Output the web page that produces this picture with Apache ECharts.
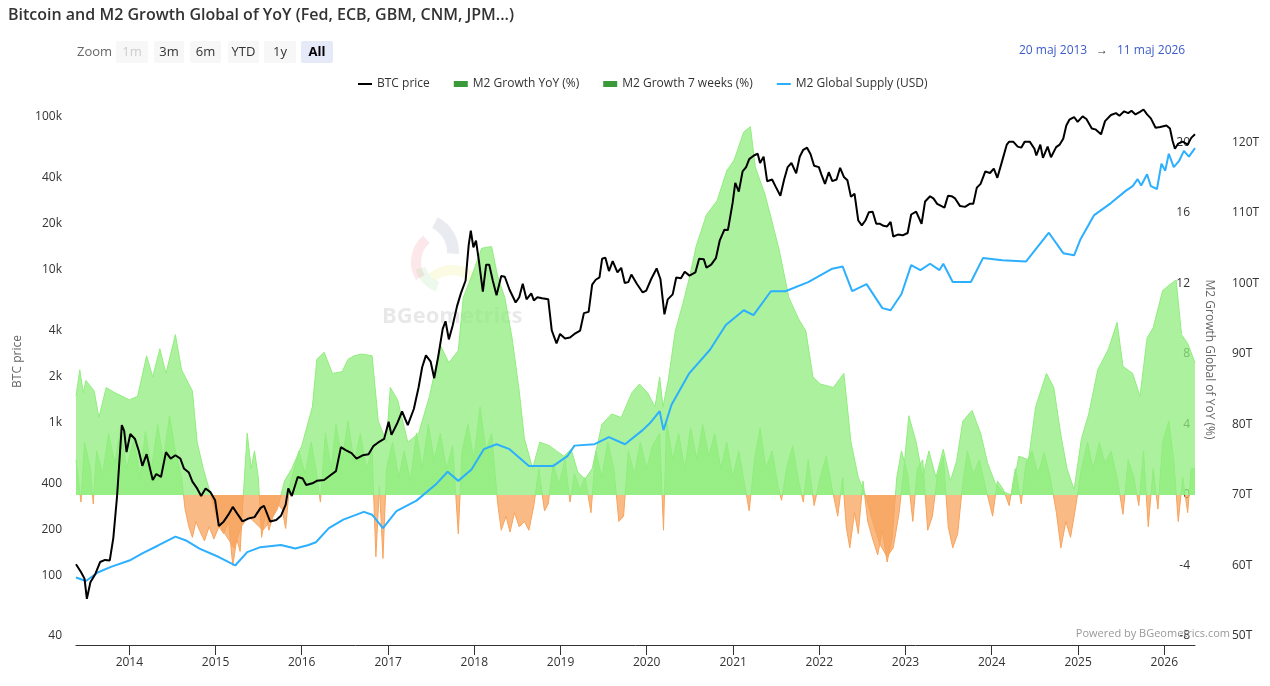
<!DOCTYPE html>
<html>
<head>
<meta charset="utf-8">
<title>Bitcoin and M2 Growth Global of YoY</title>
<script src="https://cdn.jsdelivr.net/npm/echarts@6/dist/echarts.min.js"></script>
<style>
  html, body { margin: 0; padding: 0; background: #fff; }
  #chart { width: 1270px; height: 686px; }
</style>
</head>
<body>
<div id="chart"></div>
<script>
// BTC price (USD)
var btcPrice = [
  ['2013-05-20', 118], ['2013-06-10', 105], ['2013-06-25', 95], ['2013-07-05', 70], ['2013-07-20', 90],
  ['2013-08-10', 102], ['2013-08-30', 122], ['2013-09-20', 126], ['2013-10-10', 125], ['2013-10-25', 175],
  ['2013-11-10', 330], ['2013-11-30', 960], ['2013-12-10', 880], ['2013-12-20', 640], ['2014-01-05', 840],
  ['2014-01-25', 780], ['2014-02-10', 650], ['2014-02-25', 520], ['2014-03-15', 620], ['2014-04-10', 420],
  ['2014-04-25', 460], ['2014-05-15', 440], ['2014-06-05', 640], ['2014-06-25', 580], ['2014-07-15', 610],
  ['2014-08-05', 580], ['2014-08-20', 500], ['2014-09-10', 470], ['2014-09-25', 410], ['2014-10-15', 370],
  ['2014-11-01', 330], ['2014-11-20', 370], ['2014-12-10', 350], ['2014-12-30', 310], ['2015-01-15', 210],
  ['2015-02-05', 225], ['2015-02-25', 250], ['2015-03-15', 280], ['2015-04-05', 250], ['2015-04-25', 225],
  ['2015-05-20', 235], ['2015-06-15', 240], ['2015-07-10', 275], ['2015-07-25', 285], ['2015-08-20', 225],
  ['2015-09-15', 230], ['2015-10-05', 245], ['2015-10-25', 290], ['2015-11-05', 370], ['2015-11-20', 330],
  ['2015-12-15', 440], ['2016-01-05', 430], ['2016-01-20', 390], ['2016-02-15', 400], ['2016-03-05', 415],
  ['2016-04-05', 420], ['2016-04-30', 450], ['2016-05-25', 480], ['2016-06-15', 690], ['2016-07-05', 660],
  ['2016-07-30', 630], ['2016-08-20', 580], ['2016-09-15', 610], ['2016-10-10', 620], ['2016-10-30', 700],
  ['2016-11-20', 740], ['2016-12-15', 780], ['2017-01-03', 1010], ['2017-01-15', 830], ['2017-02-10', 1000],
  ['2017-03-01', 1180], ['2017-03-25', 960], ['2017-04-20', 1230], ['2017-05-10', 1700], ['2017-05-25', 2300],
  ['2017-06-10', 2750], ['2017-06-30', 2500], ['2017-07-15', 1950], ['2017-08-01', 2700], ['2017-08-20', 4100],
  ['2017-09-01', 4600], ['2017-09-15', 3500], ['2017-10-01', 4300], ['2017-10-20', 5800], ['2017-11-05', 7000],
  ['2017-11-25', 8500], ['2017-12-08', 14500], ['2017-12-17', 18000], ['2017-12-28', 14000], ['2018-01-08', 15500],
  ['2018-01-20', 11500], ['2018-02-06', 7200], ['2018-02-20', 10800], ['2018-03-05', 10800], ['2018-03-20', 8500],
  ['2018-04-05', 6800], ['2018-04-25', 9100], ['2018-05-10', 9000], ['2018-05-30', 7400], ['2018-06-25', 6100],
  ['2018-07-10', 6600], ['2018-07-25', 8100], ['2018-08-10', 6400], ['2018-08-30', 7000], ['2018-09-10', 6300],
  ['2018-09-25', 6600], ['2018-10-15', 6500], ['2018-11-10', 6400], ['2018-11-25', 4000], ['2018-12-15', 3300],
  ['2018-12-30', 3800], ['2019-01-20', 3550], ['2019-02-10', 3600], ['2019-03-01', 3800], ['2019-03-25', 4000],
  ['2019-04-10', 5200], ['2019-04-30', 5300], ['2019-05-15', 8000], ['2019-05-30', 8600], ['2019-06-15', 8900],
  ['2019-06-26', 11800], ['2019-07-10', 12000], ['2019-07-25', 9800], ['2019-08-10', 11400], ['2019-08-30', 9600],
  ['2019-09-15', 10300], ['2019-09-30', 8200], ['2019-10-15', 8300], ['2019-10-28', 9300], ['2019-11-20', 8100],
  ['2019-12-15', 7100], ['2019-12-30', 7300], ['2020-01-20', 8700], ['2020-02-12', 10200], ['2020-02-28', 8700],
  ['2020-03-16', 5100], ['2020-03-30', 6400], ['2020-04-20', 6900], ['2020-05-05', 8900], ['2020-05-25', 8800],
  ['2020-06-10', 9700], ['2020-06-30', 9150], ['2020-07-25', 9600], ['2020-08-10', 11800], ['2020-08-30', 11700],
  ['2020-09-10', 10300], ['2020-09-30', 10800], ['2020-10-20', 11900], ['2020-11-05', 15500], ['2020-11-25', 18300],
  ['2020-12-10', 18200], ['2020-12-30', 27500], ['2021-01-10', 37000], ['2021-01-25', 32500], ['2021-02-10', 44000],
  ['2021-02-25', 47000], ['2021-03-10', 53000], ['2021-03-30', 56000], ['2021-04-15', 57500], ['2021-04-25', 50000],
  ['2021-05-10', 55000], ['2021-05-25', 38000], ['2021-06-15', 39000], ['2021-06-30', 35000], ['2021-07-20', 30500],
  ['2021-08-05', 39000], ['2021-08-20', 47000], ['2021-09-05', 50000], ['2021-09-25', 42800], ['2021-10-10', 55000],
  ['2021-10-25', 61000], ['2021-11-10', 63000], ['2021-11-25', 57000], ['2021-12-10', 48000], ['2021-12-30', 47000],
  ['2022-01-10', 42000], ['2022-01-25', 36500], ['2022-02-10', 43500], ['2022-02-25', 38000], ['2022-03-15', 39000],
  ['2022-03-30', 46500], ['2022-04-15', 40500], ['2022-04-30', 38500], ['2022-05-15', 30000], ['2022-05-30', 31500],
  ['2022-06-15', 21000], ['2022-06-30', 19500], ['2022-07-15', 21000], ['2022-07-30', 23800], ['2022-08-15', 24000],
  ['2022-08-30', 20000], ['2022-09-15', 20000], ['2022-09-30', 19400], ['2022-10-15', 19200], ['2022-10-30', 20600],
  ['2022-11-10', 16500], ['2022-11-30', 17000], ['2022-12-20', 16800], ['2023-01-10', 17400], ['2023-01-25', 23000],
  ['2023-02-15', 24000], ['2023-03-10', 20000], ['2023-03-25', 28000], ['2023-04-15', 30300], ['2023-04-30', 29200],
  ['2023-05-15', 27000], ['2023-06-15', 25500], ['2023-06-30', 30500], ['2023-07-15', 30300], ['2023-07-30', 29300],
  ['2023-08-20', 26100], ['2023-09-10', 25800], ['2023-09-30', 27000], ['2023-10-15', 27000], ['2023-10-30', 34500],
  ['2023-11-15', 36500], ['2023-12-05', 44000], ['2023-12-25', 43000], ['2024-01-10', 46000], ['2024-01-25', 40000],
  ['2024-02-15', 52000], ['2024-03-05', 66000], ['2024-03-15', 69000], ['2024-04-01', 69000], ['2024-04-20', 64000],
  ['2024-05-05', 63000], ['2024-05-20', 69000], ['2024-06-10', 69000], ['2024-06-30', 62000], ['2024-07-08', 56000],
  ['2024-07-25', 66000], ['2024-08-05', 54000], ['2024-08-25', 64000], ['2024-09-08', 54500], ['2024-09-30', 63500],
  ['2024-10-15', 66000], ['2024-10-30', 72000], ['2024-11-12', 88000], ['2024-11-25', 96000], ['2024-12-15', 100000],
  ['2024-12-30', 93000], ['2025-01-20', 101000], ['2025-02-05', 97000], ['2025-02-28', 84000], ['2025-03-15', 83000],
  ['2025-04-08', 77000], ['2025-04-25', 94000], ['2025-05-20', 103000], ['2025-06-10', 106000], ['2025-06-25', 102000],
  ['2025-07-15', 109000], ['2025-08-01', 106000], ['2025-08-15', 110000], ['2025-09-01', 104000], ['2025-09-20', 108000],
  ['2025-10-05', 112000], ['2025-10-20', 104000], ['2025-11-05', 98000], ['2025-11-25', 85000], ['2025-12-15', 86000],
  ['2026-01-10', 88000], ['2026-01-25', 84000], ['2026-02-05', 70000], ['2026-02-15', 62000], ['2026-03-01', 67000],
  ['2026-03-20', 69000], ['2026-04-10', 66000], ['2026-04-25', 73000], ['2026-05-11', 77000]
];

// M2 Global Supply (USD, trillions)
var m2Supply = [
  ['2013-05-20', 58.3], ['2013-07-01', 57.8], ['2013-08-20', 59.0], ['2013-10-15', 59.8], ['2014-01-01', 60.7],
  ['2014-03-01', 61.8], ['2014-05-01', 62.8], ['2014-07-15', 64.1], ['2014-09-01', 63.5], ['2014-10-25', 62.4],
  ['2015-01-15', 61.2], ['2015-03-25', 60.0], ['2015-05-15', 61.9], ['2015-07-10', 62.6], ['2015-10-05', 62.9],
  ['2015-12-05', 62.4], ['2016-01-30', 62.9], ['2016-03-01', 63.3], ['2016-04-25', 65.3], ['2016-06-25', 66.5],
  ['2016-09-20', 67.6], ['2016-10-25', 67.2], ['2016-12-10', 65.3], ['2017-02-05', 67.7], ['2017-05-01', 69.2],
  ['2017-07-25', 71.6], ['2017-09-10', 73.3], ['2017-10-25', 72.0], ['2017-12-20', 73.6], ['2018-02-10', 76.5],
  ['2018-04-05', 77.2], ['2018-05-30', 76.5], ['2018-08-20', 74.1], ['2018-11-30', 74.1], ['2019-01-30', 75.5],
  ['2019-03-01', 77.0], ['2019-05-25', 77.2], ['2019-07-25', 78.2], ['2019-10-01', 77.2], ['2019-12-15', 79.2],
  ['2020-01-15', 80.2], ['2020-02-25', 81.9], ['2020-03-12', 79.2], ['2020-04-15', 82.8], ['2020-06-28', 87.2],
  ['2020-09-25', 90.6], ['2020-12-01', 94.1], ['2021-02-15', 96.2], ['2021-03-28', 95.5], ['2021-06-10', 98.9],
  ['2021-08-10', 98.9], ['2021-11-15', 100.2], ['2022-02-25', 102.1], ['2022-04-10', 102.4], ['2022-05-20', 98.9],
  ['2022-07-20', 99.9], ['2022-09-25', 96.5], ['2022-10-30', 96.2], ['2022-12-15', 98.5], ['2023-01-25', 102.6],
  ['2023-03-05', 101.9], ['2023-04-15', 102.8], ['2023-05-25', 101.9], ['2023-06-10', 102.8], ['2023-07-20', 100.2],
  ['2023-10-05', 100.2], ['2023-11-25', 103.6], ['2024-02-15', 103.3], ['2024-05-25', 103.1], ['2024-08-30', 107.2],
  ['2024-10-30', 104.3], ['2024-12-15', 104.0], ['2025-01-10', 106.2], ['2025-03-10', 109.7], ['2025-05-20', 111.4],
  ['2025-07-20', 113.1], ['2025-08-20', 113.8], ['2025-09-10', 114.8], ['2025-09-25', 113.9], ['2025-10-20', 115.5],
  ['2025-11-05', 113.8], ['2025-12-01', 113.4], ['2025-12-20', 117.0], ['2026-01-05', 116.0], ['2026-01-20', 118.4],
  ['2026-02-10', 116.5], ['2026-03-05', 117.4], ['2026-03-25', 118.8], ['2026-04-15', 118.0], ['2026-05-11', 119.2]
];

// M2 Growth YoY (%)
var m2GrowthYoY = [
  ['2013-05-20', 5.6], ['2013-06-05', 7.1], ['2013-06-20', 5.8], ['2013-07-01', 6.5], ['2013-08-05', 5.9],
  ['2013-08-25', 4.4], ['2013-09-25', 6.1], ['2013-11-01', 5.8], ['2014-01-01', 5.4], ['2014-02-05', 5.6],
  ['2014-03-15', 7.9], ['2014-04-10', 6.7], ['2014-05-10', 8.3], ['2014-06-05', 6.9], ['2014-07-15', 9.1],
  ['2014-08-10', 7.1], ['2014-09-25', 5.9], ['2014-10-15', 3.0], ['2014-11-10', 1.5], ['2014-12-10', 0.1],
  ['2015-01-10', -1.5], ['2015-02-10', -2.2], ['2015-03-20', -3.0], ['2015-04-20', -1.8], ['2015-05-20', -1.2],
  ['2015-06-20', -1.6], ['2015-07-20', -2.0], ['2015-08-20', -1.5], ['2015-09-20', -0.8], ['2015-10-20', 0.8],
  ['2015-11-20', 1.5], ['2016-01-01', 2.8], ['2016-02-15', 5.0], ['2016-03-05', 7.7], ['2016-04-05', 8.1],
  ['2016-05-10', 6.9], ['2016-06-20', 7.0], ['2016-07-15', 7.7], ['2016-08-10', 7.9], ['2016-09-10', 8.0],
  ['2016-10-25', 7.9], ['2016-11-20', 4.2], ['2016-12-25', 3.0], ['2017-01-10', 6.1], ['2017-02-10', 5.4],
  ['2017-03-25', 3.0], ['2017-05-10', 3.5], ['2017-06-25', 5.6], ['2017-08-10', 8.5], ['2017-09-15', 7.5],
  ['2017-10-25', 8.2], ['2017-11-15', 11.2], ['2017-12-20', 12.4], ['2018-02-01', 14.0], ['2018-03-15', 14.1],
  ['2018-04-10', 12.4], ['2018-05-10', 11.2], ['2018-06-10', 8.9], ['2018-07-10', 5.9], ['2018-08-01', 3.2],
  ['2018-09-05', 1.5], ['2018-10-05', 3.0], ['2018-11-15', 2.8], ['2018-12-15', 2.5], ['2019-01-15', 2.2],
  ['2019-02-15', 2.6], ['2019-03-15', 1.3], ['2019-04-15', 0.9], ['2019-05-15', 1.5], ['2019-06-25', 4.0],
  ['2019-08-05', 4.6], ['2019-09-15', 4.4], ['2019-10-30', 5.8], ['2019-12-01', 6.3], ['2020-01-05', 5.8],
  ['2020-02-05', 5.0], ['2020-02-25', 6.7], ['2020-03-10', 5.0], ['2020-04-01', 6.5], ['2020-05-01', 9.3],
  ['2020-06-01', 10.8], ['2020-07-01', 12.4], ['2020-07-28', 14.1], ['2020-09-10', 15.9], ['2020-10-25', 16.7],
  ['2020-12-05', 18.4], ['2021-01-05', 19.0], ['2021-02-15', 20.6], ['2021-03-15', 20.9], ['2021-04-05', 18.6],
  ['2021-05-15', 17.1], ['2021-06-15', 15.5], ['2021-07-15', 13.9], ['2021-08-25', 11.2], ['2021-10-05', 10.0],
  ['2021-11-05', 9.3], ['2021-12-05', 6.7], ['2022-01-05', 6.3], ['2022-03-01', 6.1], ['2022-04-15', 6.9],
  ['2022-05-15', 3.0], ['2022-06-15', 1.0], ['2022-07-15', 0.0], ['2022-08-15', -1.5], ['2022-09-15', -2.8],
  ['2022-10-15', -3.5], ['2022-11-10', -3.0], ['2022-12-05', -1.0], ['2022-12-25', 1.5], ['2023-01-15', 4.5],
  ['2023-02-15', 3.0], ['2023-03-15', 1.0], ['2023-04-10', 2.5], ['2023-05-10', 1.0], ['2023-06-10', 2.6],
  ['2023-07-10', 0.8], ['2023-08-05', 1.9], ['2023-09-01', 4.2], ['2023-10-10', 4.8], ['2023-11-15', 3.5],
  ['2023-12-15', 1.8], ['2024-01-15', 0.7], ['2024-02-15', 0.2], ['2024-03-25', 0.0], ['2024-04-25', 2.2],
  ['2024-06-05', 2.0], ['2024-07-05', 5.0], ['2024-08-20', 6.9], ['2024-09-20', 6.1], ['2024-10-20', 3.4],
  ['2024-11-15', 1.5], ['2024-12-15', 0.3], ['2025-01-15', 3.2], ['2025-02-15', 4.6], ['2025-03-25', 7.1],
  ['2025-05-10', 8.3], ['2025-06-15', 9.8], ['2025-07-10', 7.3], ['2025-08-20', 6.9], ['2025-09-20', 5.6],
  ['2025-10-20', 8.9], ['2025-11-15', 9.5], ['2025-12-25', 11.6], ['2026-01-30', 12.0], ['2026-02-20', 12.2],
  ['2026-03-15', 9.1], ['2026-04-10', 8.6], ['2026-05-11', 7.5]
];

// M2 Growth 7 weeks (%)
var m2Growth7w = [
  ['2013-05-20', 2.0], ['2013-06-10', -0.4], ['2013-06-25', 3.0], ['2013-07-20', 1.5], ['2013-08-01', -0.5],
  ['2013-08-15', 2.5], ['2013-09-10', 1.2], ['2013-10-05', 3.5], ['2013-11-01', 1.8], ['2013-11-25', 3.8],
  ['2013-12-20', 1.5], ['2014-01-20', 3.2], ['2014-02-15', 1.0], ['2014-03-10', 3.6], ['2014-04-05', 1.5],
  ['2014-05-01', 4.0], ['2014-05-25', 2.0], ['2014-06-20', 4.5], ['2014-07-15', 2.5], ['2014-08-10', 1.0],
  ['2014-08-25', -0.8], ['2014-09-10', -1.8], ['2014-09-25', -2.4], ['2014-10-10', -1.5], ['2014-10-25', -2.0],
  ['2014-11-15', -2.6], ['2014-12-05', -1.8], ['2014-12-25', -2.5], ['2015-01-15', -1.8], ['2015-02-05', -2.2],
  ['2015-02-25', -1.5], ['2015-03-15', -4.0], ['2015-04-01', -2.5], ['2015-04-15', -3.2], ['2015-05-01', 0.5],
  ['2015-05-15', 3.5], ['2015-06-01', 1.5], ['2015-06-15', 2.5], ['2015-07-01', 1.0], ['2015-07-15', -2.4],
  ['2015-08-01', -1.0], ['2015-08-15', -2.0], ['2015-09-01', -1.2], ['2015-09-20', -0.5], ['2015-10-10', -0.8],
  ['2015-10-25', -1.9], ['2015-11-10', 0.5], ['2015-12-01', 1.5], ['2015-12-20', 2.5], ['2016-01-15', 1.2],
  ['2016-02-10', 3.0], ['2016-03-01', 1.5], ['2016-03-20', -0.4], ['2016-04-10', 3.5], ['2016-05-05', 1.5],
  ['2016-05-25', 4.0], ['2016-06-20', 2.0], ['2016-07-15', 4.2], ['2016-08-10', 1.8], ['2016-09-05', 3.5],
  ['2016-10-01', 1.5], ['2016-10-25', 2.5], ['2016-11-10', -3.5], ['2016-11-25', 0.5], ['2016-12-10', -3.6],
  ['2016-12-25', 1.5], ['2017-01-20', 3.0], ['2017-02-15', 1.0], ['2017-03-10', 2.5], ['2017-04-05', 0.8],
  ['2017-05-01', 3.5], ['2017-05-25', 1.5], ['2017-06-20', 4.0], ['2017-07-15', 2.0], ['2017-08-10', 3.5],
  ['2017-09-05', 1.5], ['2017-10-01', 2.8], ['2017-10-25', -2.2], ['2017-11-10', 2.5], ['2017-12-05', 4.0],
  ['2017-12-30', 2.0], ['2018-01-25', 5.0], ['2018-02-20', 2.5], ['2018-03-15', 3.5], ['2018-04-10', -0.5],
  ['2018-04-25', -2.0], ['2018-05-15', -1.2], ['2018-06-01', -2.1], ['2018-06-20', -1.0], ['2018-07-10', -1.8],
  ['2018-08-01', -1.5], ['2018-08-20', -2.0], ['2018-09-10', -0.6], ['2018-10-01', 1.5], ['2018-10-25', -0.9],
  ['2018-11-10', -0.5], ['2018-12-01', 1.8], ['2018-12-25', 0.6], ['2019-01-20', 2.0], ['2019-02-10', -0.4],
  ['2019-03-01', 1.2], ['2019-03-25', 0.3], ['2019-04-15', 1.0], ['2019-05-10', -1.0], ['2019-05-30', 2.5],
  ['2019-06-25', 1.0], ['2019-07-20', 3.0], ['2019-08-15', 1.5], ['2019-09-05', -1.5], ['2019-09-25', -1.2],
  ['2019-10-15', 2.5], ['2019-11-10', 1.2], ['2019-12-05', 3.0], ['2020-01-01', 1.5], ['2020-01-25', 2.8],
  ['2020-02-25', 3.5], ['2020-03-12', -2.0], ['2020-03-25', 4.2], ['2020-04-20', 2.0], ['2020-05-15', 3.5],
  ['2020-06-10', 1.5], ['2020-07-05', 3.8], ['2020-08-01', 2.0], ['2020-08-25', 4.0], ['2020-09-20', 2.2],
  ['2020-10-15', 3.5], ['2020-11-10', 1.5], ['2020-12-05', 3.0], ['2020-12-30', 1.0], ['2021-01-25', 2.5],
  ['2021-02-20', 0.5], ['2021-03-10', -0.9], ['2021-04-01', 2.0], ['2021-04-25', 3.8], ['2021-05-20', 1.5],
  ['2021-06-15', 2.5], ['2021-07-10', 0.5], ['2021-07-25', -0.3], ['2021-08-15', 1.5], ['2021-09-10', 2.8],
  ['2021-10-05', 0.8], ['2021-10-25', -0.4], ['2021-11-15', 2.0], ['2021-12-10', -0.6], ['2022-01-05', 1.0],
  ['2022-01-30', 2.2], ['2022-02-25', 0.3], ['2022-03-20', -1.2], ['2022-04-10', 1.0], ['2022-04-25', -1.8],
  ['2022-05-10', -3.0], ['2022-05-30', -1.0], ['2022-06-15', -2.2], ['2022-07-05', 0.8], ['2022-07-25', -1.5],
  ['2022-08-15', -2.5], ['2022-09-05', -3.4], ['2022-09-25', -2.0], ['2022-10-15', -3.8], ['2022-11-05', -2.5],
  ['2022-11-25', 1.0], ['2022-12-15', 2.5], ['2023-01-10', 1.2], ['2023-02-01', -1.5], ['2023-02-20', 1.5],
  ['2023-03-15', 2.0], ['2023-04-05', -2.0], ['2023-04-25', -1.2], ['2023-05-15', 1.0], ['2023-06-10', 2.2],
  ['2023-07-01', -1.8], ['2023-07-20', -3.0], ['2023-08-10', -2.2], ['2023-08-30', 0.5], ['2023-09-20', 2.5],
  ['2023-10-15', 1.2], ['2023-11-10', 2.0], ['2023-12-05', 0.5], ['2024-01-05', -1.2], ['2024-01-25', 0.8],
  ['2024-02-20', 0.3], ['2024-03-15', -0.6], ['2024-04-10', 1.5], ['2024-05-05', -0.5], ['2024-05-25', 1.8],
  ['2024-06-20', 2.5], ['2024-07-15', 1.2], ['2024-08-10', 2.4], ['2024-09-05', 1.0], ['2024-10-01', -1.0],
  ['2024-10-20', -3.0], ['2024-11-10', -1.5], ['2024-11-30', -2.4], ['2024-12-20', -0.8], ['2025-01-15', 1.5],
  ['2025-02-10', 3.0], ['2025-03-05', 1.5], ['2025-04-01', 3.0], ['2025-04-25', 1.8], ['2025-05-20', 2.5],
  ['2025-06-15', 1.0], ['2025-07-10', -1.1], ['2025-08-01', 2.0], ['2025-08-25', 1.0], ['2025-09-15', -0.6],
  ['2025-10-05', 2.5], ['2025-10-25', -1.8], ['2025-11-15', 1.5], ['2025-12-05', -0.8], ['2025-12-25', 3.0],
  ['2026-01-20', 4.2], ['2026-02-10', 2.0], ['2026-03-01', -1.5], ['2026-03-20', 1.0], ['2026-04-10', -1.0],
  ['2026-04-25', 1.5], ['2026-05-11', 1.5]
];

var btcTicks = [40, 100, 200, 400, 1000, 2000, 4000, 10000, 20000, 40000, 100000];
var growthTicks = [-8, -4, 0, 4, 8, 12, 16, 20];
var supplyTicks = [50, 60, 70, 80, 90, 100, 110, 120];

var FONT = '"Open Sans", sans-serif';
var GREEN = '#90ed7d';
var ORANGE = '#f7a35c';
var BLUE = '#2caffe';
var BAR_ICON = 'path://M0,0 L14,0 L14,6 L0,6 Z';
var LINE_ICON = 'path://M0,0 L14,0 L14,2 L0,2 Z';
var YEAR_MS = 365.25 * 24 * 3600 * 1000;

var chart = echarts.init(document.getElementById('chart'), null, { renderer: 'canvas' });

function kFormat(v) {
  return v >= 1000 ? (v / 1000) + 'k' : String(v);
}

// range selector, date inputs, credits, watermark (static chrome)
function buildGraphic() {
  var els = [];
  els.push({ type: 'text', x: 77, y: 52, style: { text: 'Zoom', font: '13px ' + FONT, fill: '#666', verticalAlign: 'middle' } });
  var btns = [['1m', 116, 32], ['3m', 154, 30], ['6m', 190, 31], ['YTD', 228, 31], ['1y', 264, 32], ['All', 301, 32]];
  btns.forEach(function (b) {
    var sel = b[0] === 'All';
    els.push({ type: 'rect', shape: { x: b[1], y: 41, width: b[2], height: 22, r: 2 }, style: { fill: sel ? '#e6e9f8' : '#f7f7f7' } });
    els.push({
      type: 'text', x: b[1] + b[2] / 2, y: 52,
      style: {
        text: b[0], align: 'center', verticalAlign: 'middle',
        font: (sel ? 'bold ' : '') + '13px ' + FONT,
        fill: b[0] === '1m' ? '#cccccc' : (sel ? '#000' : '#333')
      }
    });
  });
  els.push({ type: 'text', x: 1019, y: 51, style: { text: '20 maj 2013', font: '12px ' + FONT, fill: '#3b5bcc', verticalAlign: 'middle' } });
  els.push({ type: 'text', x: 1102, y: 51, style: { text: '→', font: '12px ' + FONT, fill: '#333', align: 'center', verticalAlign: 'middle' } });
  els.push({ type: 'text', x: 1117, y: 51, style: { text: '11 maj 2026', font: '12px ' + FONT, fill: '#3b5bcc', verticalAlign: 'middle' } });
  els.push({ type: 'text', x: 1230, y: 634, z: 10, style: { text: 'Powered by BGeometrics.com', font: '11px ' + FONT, fill: '#999', align: 'right', verticalAlign: 'middle' } });

  // faint watermark logo
  els.push({ type: 'arc', z: -1, shape: { cx: 420, cy: 252, r: 33, startAngle: -1.1, endAngle: 0.05 }, style: { stroke: 'rgba(90,100,140,0.13)', lineWidth: 12, fill: null } });
  els.push({ type: 'arc', z: -1, shape: { cx: 446, cy: 262, r: 30, startAngle: 2.6, endAngle: 4.0 }, style: { stroke: 'rgba(230,60,80,0.12)', lineWidth: 10, fill: null } });
  els.push({ type: 'arc', z: -1, shape: { cx: 452, cy: 300, r: 30, startAngle: -2.3, endAngle: -0.8 }, style: { stroke: 'rgba(230,220,60,0.15)', lineWidth: 10, fill: null } });
  els.push({ type: 'arc', z: -1, shape: { cx: 446, cy: 262, r: 26, startAngle: 1.9, endAngle: 2.9 }, style: { stroke: 'rgba(80,200,80,0.10)', lineWidth: 10, fill: null } });
  els.push({ type: 'text', z: -1, x: 382, y: 317, style: { text: 'BGeometrics', font: 'bold 22px ' + FONT, fill: 'rgba(0,0,0,0.09)', verticalAlign: 'middle' } });
  return els;
}

var option = {
  animation: false,
  textStyle: { fontFamily: FONT },
  title: {
    text: 'Bitcoin and M2 Growth Global of YoY (Fed, ECB, GBM, CNM, JPM...)',
    left: 8,
    top: 7,
    padding: 0,
    textStyle: { fontSize: 16, fontWeight: 600, color: '#333', fontFamily: FONT }
  },
  legend: {
    top: 73,
    left: 353,
    itemGap: 24,
    itemWidth: 14,
    itemHeight: 14,
    textStyle: { color: '#333', fontSize: 12, fontFamily: FONT },
    data: [
      { name: 'BTC price', icon: LINE_ICON, itemStyle: { color: '#000' } },
      { name: 'M2 Growth YoY (%)', icon: BAR_ICON, itemStyle: { color: '#3a9a3a' } },
      { name: 'M2 Growth 7 weeks (%)', icon: BAR_ICON, itemStyle: { color: '#3a9a3a' } },
      { name: 'M2 Global Supply (USD)', icon: LINE_ICON, itemStyle: { color: BLUE } }
    ]
  },
  grid: {
    left: 76,
    right: 75,
    top: 102,
    bottom: 41,
    containLabel: false,
    outerBoundsMode: 'none'
  },
  xAxis: {
    type: 'time',
    min: new Date(2013, 4, 20).getTime(),
    max: new Date(2026, 4, 11).getTime(),
    minInterval: YEAR_MS,
    maxInterval: YEAR_MS,
    axisLine: { onZero: false, lineStyle: { color: '#333', width: 1 } },
    axisTick: { show: true, length: 10, lineStyle: { color: '#333' } },
    axisLabel: {
      formatter: function (v) { return String(new Date(v).getFullYear()); },
      color: '#333',
      fontSize: 12,
      margin: 12,
      showMinLabel: false,
      showMaxLabel: false
    },
    splitLine: { show: false }
  },
  yAxis: [
    {
      type: 'log',
      logBase: 10,
      min: 34.92,
      max: 125400,
      position: 'left',
      axisLine: { show: false },
      axisTick: { show: false },
      splitLine: { show: false },
      axisLabel: { customValues: btcTicks, formatter: kFormat, color: '#333', fontSize: 12, margin: 14 },
      name: 'BTC price',
      nameLocation: 'middle',
      nameGap: 52,
      nameTextStyle: { color: '#666', fontSize: 12, padding: [0, 0, 0, 24] }
    },
    {
      type: 'value',
      position: 'right',
      min: -8.51,
      max: 22.3,
      axisLine: { show: false },
      axisTick: { show: false },
      splitLine: { show: false },
      axisLabel: { customValues: growthTicks, inside: true, margin: 5, color: '#333', fontSize: 12 },
      name: 'M2 Growth Global of YoY (%)',
      nameLocation: 'middle',
      nameRotate: -90,
      nameGap: 2,
      nameTextStyle: { color: '#666', fontSize: 12, padding: [0, 28, 0, 0] }
    },
    {
      type: 'value',
      position: 'right',
      offset: 29,
      min: 48.72,
      max: 125.74,
      axisLine: { show: false },
      axisTick: { show: false },
      splitLine: { show: false },
      axisLabel: { customValues: supplyTicks, formatter: function (v) { return v + 'T'; }, margin: 8, color: '#333', fontSize: 12 },
      name: 'M2 Global Supply (USD)',
      nameLocation: 'middle',
      nameRotate: -90,
      nameGap: 40,
      nameTextStyle: { color: '#666', fontSize: 12 }
    }
  ],
  // finite pieces so the line/area gradient gets real colour stops
  visualMap: [{
    type: 'piecewise',
    show: false,
    seriesIndex: [0, 1],
    dimension: 1,
    pieces: [
      { gte: -50, lt: 0, color: ORANGE },
      { gte: 0, lte: 50, color: GREEN }
    ]
  }],
  graphic: buildGraphic(),
  series: [
    {
      name: 'M2 Growth YoY (%)',
      type: 'line',
      yAxisIndex: 1,
      data: m2GrowthYoY,
      symbol: 'none',
      z: 1,
      lineStyle: { width: 1 },
      areaStyle: { opacity: 0.75 }
    },
    {
      name: 'M2 Growth 7 weeks (%)',
      type: 'line',
      yAxisIndex: 1,
      data: m2Growth7w,
      symbol: 'none',
      z: 1,
      lineStyle: { width: 1 },
      areaStyle: { opacity: 0.75 }
    },
    {
      name: 'BTC price',
      type: 'line',
      yAxisIndex: 0,
      data: btcPrice,
      symbol: 'none',
      z: 4,
      itemStyle: { color: '#000' },
      lineStyle: { color: '#000', width: 2 }
    },
    {
      name: 'M2 Global Supply (USD)',
      type: 'line',
      yAxisIndex: 2,
      data: m2Supply,
      symbol: 'none',
      z: 3,
      itemStyle: { color: BLUE },
      lineStyle: { color: BLUE, width: 2 }
    }
  ]
};

chart.setOption(option);
</script>
</body>
</html>
